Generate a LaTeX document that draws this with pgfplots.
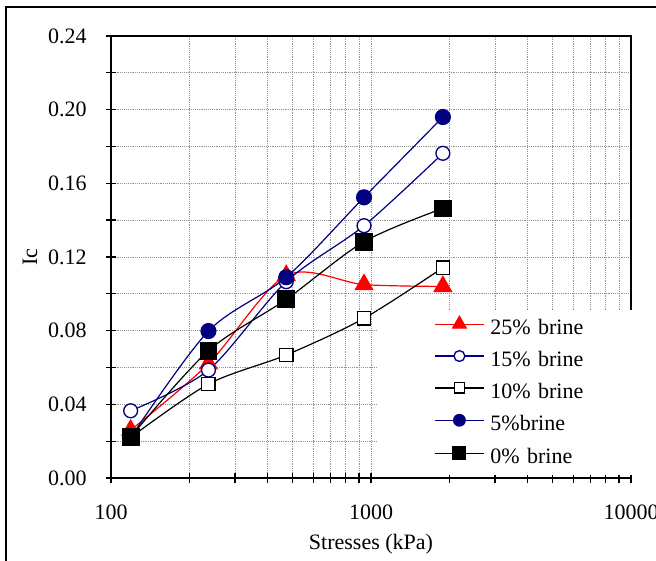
\documentclass[border=0pt]{standalone}
\usepackage{pgfplots}
\pgfplotsset{compat=1.18}
\usepackage{fontspec}
\setmainfont{Liberation Serif}
\definecolor{navy}{RGB}{0,0,128}

\begin{document}
\fontsize{16.5}{19}\selectfont
\begin{tikzpicture}
\begin{axis}[
    at={(0,0)}, anchor=south west,
    scale only axis,
    width=390pt, height=331.5pt,
    xmode=log,
    xmin=100, xmax=10000,
    ymin=0, ymax=0.24,
    xtick={100,1000,10000},
    xticklabels={100,1000,10000},
    ytick={0,0.04,0.08,0.12,0.16,0.2,0.24},
    minor ytick={0.02,0.06,0.1,0.14,0.18,0.22},
    /pgf/number format/assume math mode=true,
    yticklabel style={/pgf/number format/fixed, /pgf/number format/fixed zerofill,
        /pgf/number format/precision=2, anchor=east, inner sep=0pt, xshift=-14.25pt},
    xticklabel style={anchor=center, inner sep=0pt, yshift=-21.75pt},
    tick pos=left,
    tick align=center,
    major tick length=7.5pt,
    minor tick length=7.5pt,
    tick style={black, line width=1pt},
    axis line style={line width=1.5pt},
    grid=both,
    major grid style={gray!85, densely dotted, line width=0.6pt},
    minor grid style={gray!85, densely dotted, line width=0.6pt},
    xlabel={Stresses (kPa)},
    ylabel={Ic},
    every axis x label/.style={at={(axis description cs:0.5,-0.1493)}, anchor=center},
    every axis y label/.style={at={(axis description cs:-0.1558,0.5)}, rotate=90, anchor=center},
    legend style={at={(axis description cs:0.5135,0.380)}, anchor=north west,
        draw=none, fill=white, inner xsep=0pt, inner ysep=4.5pt,
        row sep=7.9pt, column sep=4.5pt,
        nodes={inner sep=0pt, text height=12pt, text depth=4pt, text width=113pt, align=left}},
    legend cell align=left,
    legend image code/.code={
        \path (0pt,0pt);
        \draw[#1, mark repeat=2, mark phase=2, every mark/.append style={scale=0.78}]
            plot coordinates {(42pt,4pt) (60.4pt,4pt) (78.75pt,4pt)};
    },
]

% 25% brine
\addplot[red, line width=0.9pt, smooth, mark=triangle*, mark size=7.5pt,
    mark options={solid, fill=red, draw=red}]
    coordinates {(119,0.026) (237,0.062) (472,0.110) (940,0.105) (1890,0.104)};
\addlegendentry{25\% brine}

% 15% brine
\addplot[navy, line width=0.9pt, smooth, mark=*, mark size=5.2pt,
    mark options={solid, fill=white, draw=navy, line width=1pt}]
    coordinates {(119,0.0365) (237,0.0586) (472,0.1066) (940,0.137) (1890,0.1763)};
\addlegendentry{15\% brine}

% 10% brine
\addplot[black, line width=0.9pt, smooth, mark=square*, mark size=5pt,
    mark options={solid, fill=white, draw=black, line width=1pt}]
    coordinates {(119,0.022) (237,0.051) (472,0.0668) (940,0.0867) (1890,0.1142)};
\addlegendentry{10\% brine}

% 5% brine
\addplot[navy, line width=0.9pt, smooth, mark=*, mark size=5.6pt,
    mark options={solid, fill=navy, draw=navy}]
    coordinates {(119,0.022) (237,0.0798) (472,0.109) (940,0.1524) (1890,0.196)};
\addlegendentry{5\%brine}

% 0% brine
\addplot[black, line width=0.9pt, smooth, mark=square*, mark size=6.2pt,
    mark options={solid, fill=black, draw=black}]
    coordinates {(119,0.0223) (237,0.0691) (472,0.097) (940,0.1283) (1890,0.1464)};
\addlegendentry{0\% brine}

\end{axis}
\draw[line width=1.5pt] (-78.75pt,-90pt) -- (-78.75pt,353.25pt) -- (440pt,353.25pt);
\pgfresetboundingbox
\path[use as bounding box] (-83.25pt,-61.5pt) rectangle (408.75pt,358.5pt);
\end{tikzpicture}
\end{document}
